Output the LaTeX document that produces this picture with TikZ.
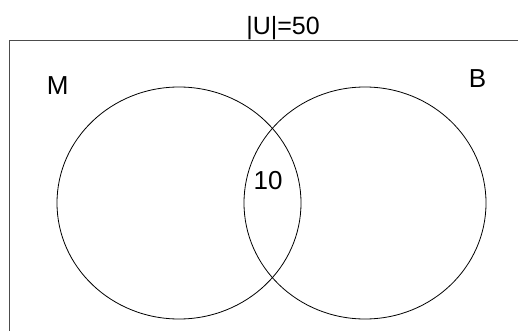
\documentclass[tikz,border=0pt]{standalone}
\usepackage{fontspec}
\setmainfont{Liberation Sans}
\begin{document}
\begin{tikzpicture}[x=1pt,y=-1pt,
  frame/.style={draw=black!70,line width=1pt},
  setring/.style={draw=black,line width=0.8pt},
  lbl/.style={font=\fontsize{26}{30}\selectfont,inner sep=0pt,anchor=base},
  ttl/.style={font=\fontsize{25}{30}\selectfont,inner sep=0pt,anchor=base}]
\useasboundingbox (0,0) rectangle (518,331);
\draw[frame] (9.5,331) -- (9.5,40.5) -- (518,40.5);
\draw[setring] (179,203) ellipse [x radius=122,y radius=116];
\draw[setring] (365,203) ellipse [x radius=121,y radius=116];
\node[ttl] (title) at (283,34.3) {|U|=50};
\node[lbl] (m) at (57.8,95) {M};
\node[lbl] (b) at (477.5,87.3) {B};
\node[lbl] (n) at (268,189.3) {10};
\end{tikzpicture}
\end{document}
